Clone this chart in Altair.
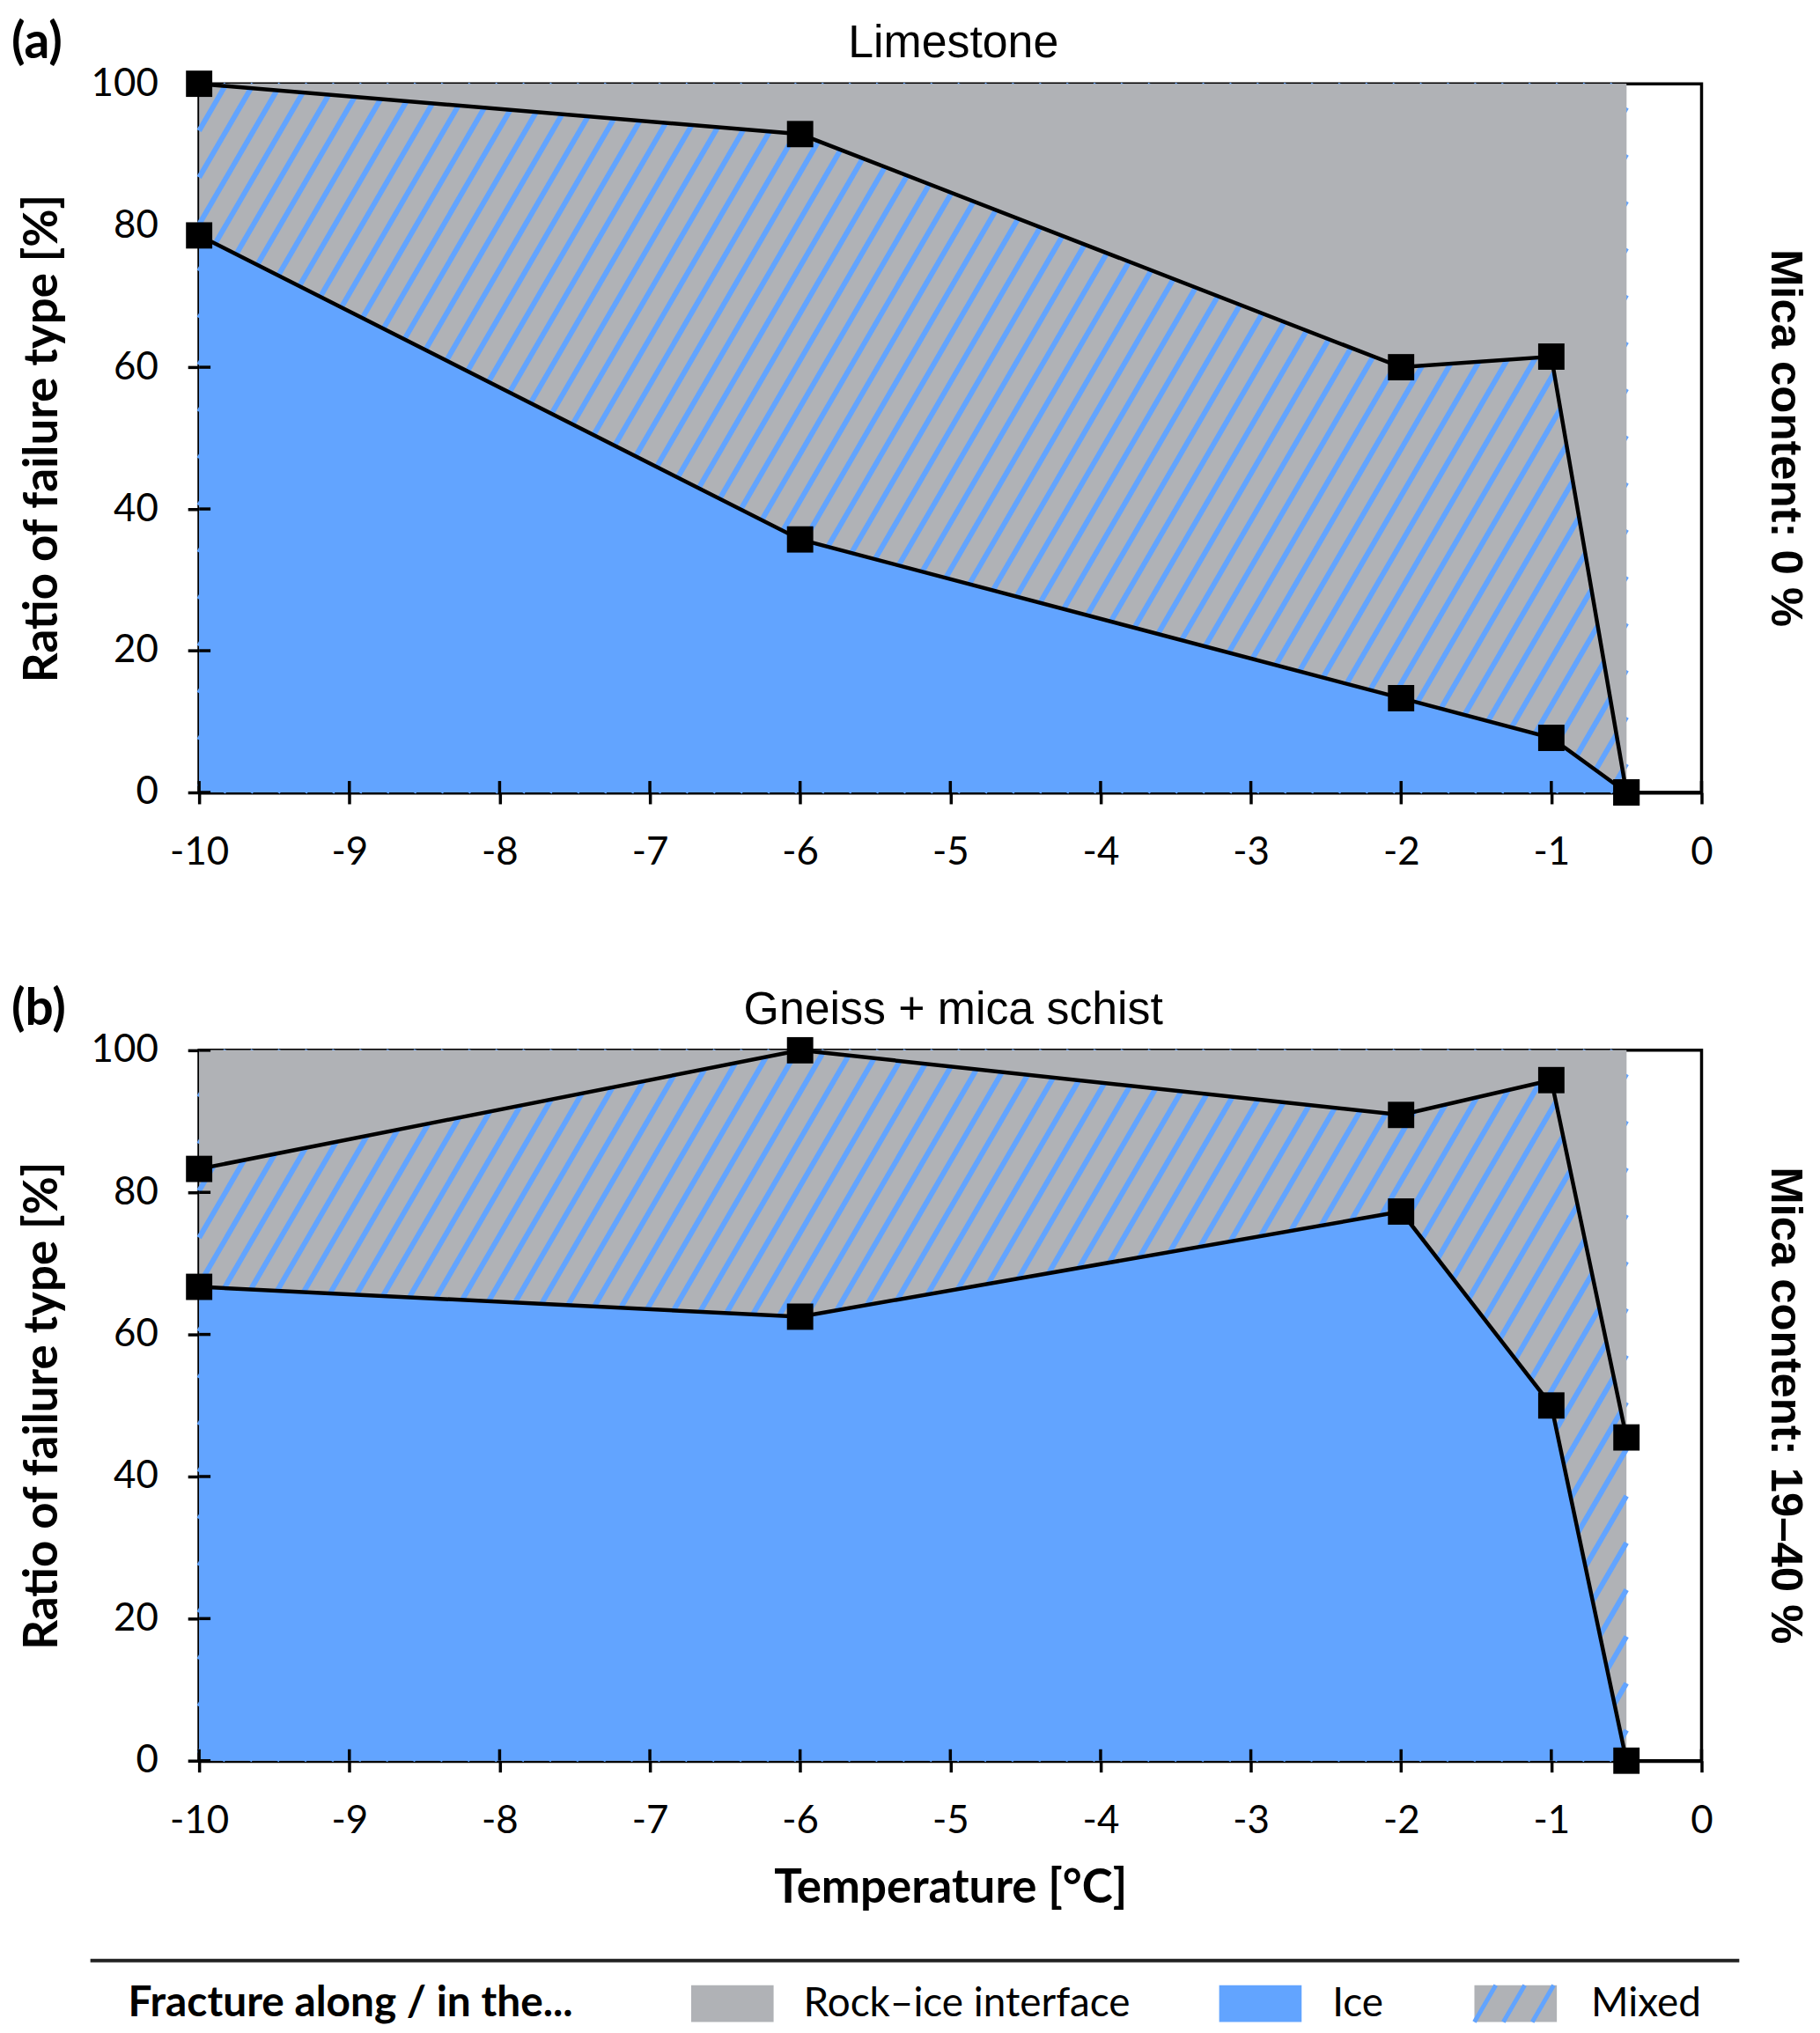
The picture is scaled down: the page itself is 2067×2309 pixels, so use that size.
import pandas as pd
import altair as alt

# temperatures of the test series [°C]
temps = [-10, -6, -2, -1, -0.5]

# limestone: ratio of failure type, cumulative [%]
lime_ice = [78.6, 35.7, 13.3, 7.7, 0]
lime_top = [100, 92.9, 60.0, 61.5, 0]      # ice + mixed

# gneiss + mica schist
gneiss_ice = [66.7, 62.5, 77.3, 50.0, 0]
gneiss_top = [83.3, 100, 90.9, 95.8, 45.5]

x_ticks = [-10, -9, -8, -7, -6, -5, -4, -3, -2, -1, 0]
y_ticks = [0, 20, 40, 60, 80, 100]

legend_labels = ["Rock\u2013ice interface", "Ice", "Mixed"]

GRAY = "#B0B2B6"
BLUE = "#62A4FF"
W = 1713
GAP = 294      # plot bottom to next plot top
SLOPE = 0.58   # hatch dx/dy


def hatch_px(px0, px1, height, spacing=31, phase=0.0):
    # diagonal segments (px, measured from bottom) clipped to a box
    segs = []
    b = px0 - SLOPE * height + phase
    while b < px1:
        t0 = max(0.0, (px0 - b) / SLOPE)
        t1 = min(height, (px1 - b) / SLOPE)
        if t1 - t0 > 2:
            segs.append((b + SLOPE * t0, t0, b + SLOPE * t1, t1))
        b += spacing
    return segs


def panel(title, tag, mica, ice, top, H, xtitle):
    xs = alt.Scale(domain=[-10, 0], nice=False)
    ys = alt.Scale(domain=[0, 100], nice=False)
    xax = alt.Axis(values=x_ticks, title=xtitle, labelExpr="'' + datum.value",
                   labelFlush=False, labelPadding=34, titlePadding=28)
    yax = alt.Axis(values=y_ticks, title="Ratio of failure type [%]",
                   labelFlush=False, labelPadding=34, titlePadding=28)
    X = alt.X("t:Q", scale=xs, axis=xax)
    Y = alt.Y("v:Q", scale=ys, axis=yax)

    lo, hi = min(temps), max(temps)
    region = pd.DataFrame({"t": [lo], "t2": [hi], "v": [0], "v2": [100]})
    px0 = (lo + 10) / 10 * W
    px1 = (hi + 10) / 10 * W
    segs = hatch_px(px0, px1, H)
    hatch = pd.DataFrame({
        "t": [s[0] / W * 10 - 10 for s in segs],
        "v": [s[1] / H * 100 for s in segs],
        "t2": [s[2] / W * 10 - 10 for s in segs],
        "v2": [s[3] / H * 100 for s in segs],
    })
    df_top = pd.DataFrame({"t": temps, "v": top})
    df_ice = pd.DataFrame({"t": temps, "v": ice})
    long = pd.concat([df_top.assign(s="top"), df_ice.assign(s="ice")])

    bg = alt.Chart(region).mark_rect(color=GRAY).encode(x=X, x2="t2", y=Y, y2="v2")
    hl = alt.Chart(hatch).mark_rule(color=BLUE, strokeWidth=6).encode(x=X, x2="t2", y=Y, y2="v2")
    a_top = alt.Chart(df_top).mark_area(color=GRAY, opacity=1).encode(x=X, y=Y, y2=alt.datum(100))
    a_ice = alt.Chart(df_ice).mark_area(color=BLUE, opacity=1).encode(x=X, y=Y, y2=alt.datum(0))
    lines = alt.Chart(long).mark_line(color="black", strokeWidth=4.5).encode(
        x=X, y=Y, detail="s:N", order="t:Q")
    pts = alt.Chart(long).mark_point(shape="square", filled=True, size=900,
                                     color="black", opacity=1).encode(x=X, y=Y)
    xin = alt.Chart(pd.DataFrame({"t": x_ticks})).mark_rule(color="black", strokeWidth=3.5).encode(
        x=X, y=alt.value(H), y2=alt.value(H - 13))
    yin = alt.Chart(pd.DataFrame({"v": y_ticks})).mark_rule(color="black", strokeWidth=3.5).encode(
        y=Y, x=alt.value(0), x2=alt.value(13))
    tag_t = alt.Chart(pd.DataFrame({"s": [tag]})).mark_text(
        font="Lato", fontSize=57, fontWeight="bold", align="left", baseline="middle").encode(
        x=alt.value(-214), y=alt.value(-46), text="s:N")
    title_t = alt.Chart(pd.DataFrame({"s": [title]})).mark_text(
        font="Liberation Sans", fontSize=52, align="center", baseline="middle").encode(
        x=alt.value(W * 0.502), y=alt.value(-46), text="s:N")
    mica_t = alt.Chart(pd.DataFrame({"s": [mica]})).mark_text(
        font="Liberation Sans", fontSize=51, fontWeight="bold", angle=90,
        align="center", baseline="middle").encode(
        x=alt.value(W + 95), y=alt.value(H / 2), text="s:N")

    return alt.layer(bg, hl, a_top, a_ice, lines, pts, xin, yin, tag_t, title_t, mica_t).properties(
        width=W, height=H)


top_panel = panel("Limestone", "(a)", "Mica content: 0 %", lime_ice, lime_top, 808, None)
bottom_panel = panel("Gneiss + mica schist", "(b)", "Mica content: 19\u201340 %",
                     gneiss_ice, gneiss_top, 810, "Temperature [°C]")

# legend row, px relative to the legend view (which starts GAP below the lower plot)
sw_x = [561, 1163, 1454]
lab_x = [689, 1292, 1587]
SEP_Y = 2230 - 2002 - GAP
ROW_Y = 2279 - 2002 - GAP
sw = pd.DataFrame({"x": sw_x, "x2": [x + 94 for x in sw_x], "label": legend_labels,
                   "lx": lab_x, "c": [GRAY, BLUE, GRAY]})
mix_segs = hatch_px(sw_x[2], sw_x[2] + 94, 42, spacing=33, phase=SLOPE * 42)
mix = pd.DataFrame({"x": [s[0] for s in mix_segs], "y": [ROW_Y + 21 - s[1] for s in mix_segs],
                    "x2": [s[2] for s in mix_segs], "y2": [ROW_Y + 21 - s[3] for s in mix_segs]})

sep = alt.Chart(pd.DataFrame({"s": [0]})).mark_rule(color="#222222", strokeWidth=4).encode(
    x=alt.value(-124), x2=alt.value(1756), y=alt.value(SEP_Y))
head = alt.Chart(pd.DataFrame({"s": ["Fracture along / in the..."]})).mark_text(
    font="Lato", fontSize=48, fontWeight="bold", align="left", baseline="middle").encode(
    x=alt.value(-81), y=alt.value(ROW_Y), text="s:N")
swatch = alt.Chart(sw).mark_rect().encode(
    x=alt.X("x:Q", scale=None), x2="x2", y=alt.value(ROW_Y - 21), y2=alt.value(ROW_Y + 21),
    color=alt.Color("c:N", scale=None))
mixl = alt.Chart(mix).mark_rule(color=BLUE, strokeWidth=5).encode(
    x=alt.X("x:Q", scale=None), x2="x2", y=alt.Y("y:Q", scale=None), y2="y2")
labs = alt.Chart(sw).mark_text(font="Lato", fontSize=46, align="left", baseline="middle").encode(
    x=alt.X("lx:Q", scale=None), y=alt.value(ROW_Y), text="label:N")
legend = alt.layer(sep, head, swatch, mixl, labs).properties(
    width=W, height=1, view=alt.ViewBackground(stroke="transparent"))

chart = alt.vconcat(top_panel, bottom_panel, legend, spacing=GAP, bounds="flush").properties(
    padding={"top": 6, "left": 3, "right": 4, "bottom": 0}
).configure_view(
    stroke="black", strokeWidth=3.5
).configure_axis(
    grid=False, domainColor="black", domainWidth=4, tickColor="black", tickWidth=3.5,
    tickSize=13, labelFont="Lato", labelFontSize=44, labelColor="black",
    titleFont="Lato", titleFontSize=53, titleFontWeight="bold", titleColor="black",
)

chart.save("out.html", embed_options={"renderer": "svg", "actions": False})
